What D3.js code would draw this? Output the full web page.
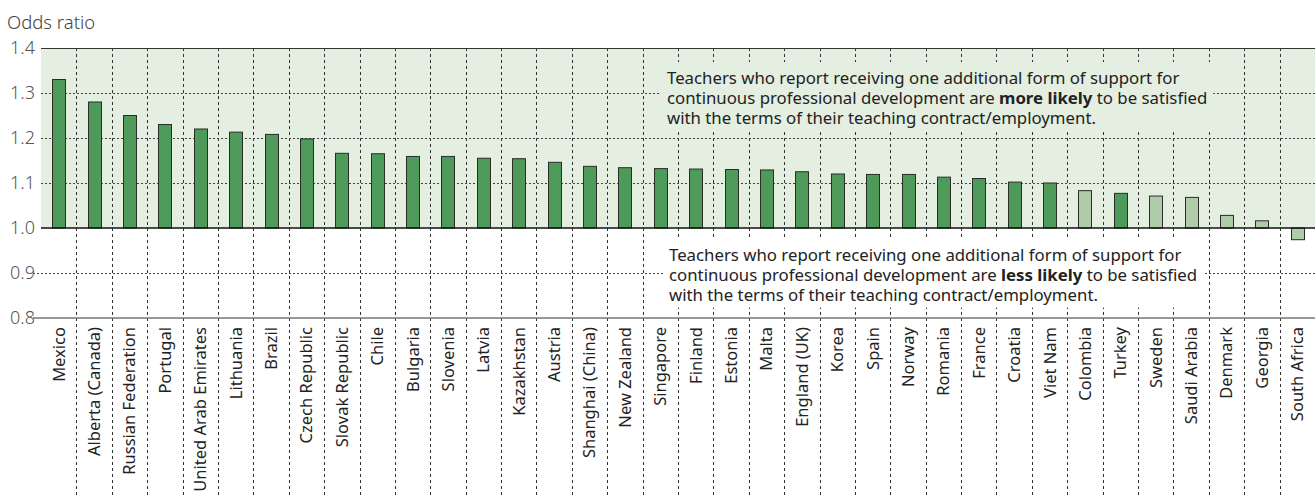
<!DOCTYPE html>
<html>
<head>
<meta charset="utf-8">
<script src="https://cdn.jsdelivr.net/npm/d3@7"></script>
<style>
  html, body { margin: 0; padding: 0; background: #fff; }
  svg { display: block; font-family: "Noto Sans", "Open Sans", sans-serif; }
</style>
</head>
<body>
<svg id="chart" width="1315" height="497"></svg>
<script>
// Odds ratio of satisfaction with contract terms per additional form of CPD support
const countries = [
  "Mexico", "Alberta (Canada)", "Russian Federation", "Portugal", "United Arab Emirates",
  "Lithuania", "Brazil", "Czech Republic", "Slovak Republic", "Chile", "Bulgaria",
  "Slovenia", "Latvia", "Kazakhstan", "Austria", "Shanghai (China)", "New Zealand",
  "Singapore", "Finland", "Estonia", "Malta", "England (UK)", "Korea", "Spain", "Norway",
  "Romania", "France", "Croatia", "Viet Nam", "Colombia", "Turkey", "Sweden",
  "Saudi Arabia", "Denmark", "Georgia", "South Africa"
];
const oddsRatio = [
  1.33, 1.28, 1.25, 1.23, 1.22,
  1.213, 1.208, 1.198, 1.166, 1.165, 1.159,
  1.159, 1.155, 1.154, 1.146, 1.137, 1.134,
  1.132, 1.131, 1.130, 1.129, 1.125, 1.120, 1.119, 1.119,
  1.113, 1.110, 1.102, 1.100, 1.083, 1.077, 1.071,
  1.068, 1.028, 1.016, 0.974
];
// true = statistically significant (darker fill)
const significant = [
  true, true, true, true, true,
  true, true, true, true, true, true,
  true, true, true, true, true, true,
  true, true, true, true, true, true, true, true,
  true, true, true, true, false, true, false,
  false, false, false, false
];
const yTicks = [0.8, 0.9, 1.0, 1.1, 1.2, 1.3, 1.4];

const svg = d3.select("#chart");
const W = 1315, H = 497;
const margin = { left: 41, top: 48, plotBottom: 318 };

const x = d3.scaleBand().domain(countries).range([margin.left, W]).paddingInner(0).paddingOuter(0);
const y = d3.scaleLinear().domain([0.8, 1.4]).range([margin.plotBottom, margin.top]);

// shaded region above 1.0
svg.append("rect")
  .attr("x", margin.left).attr("y", y(1.4))
  .attr("width", W - margin.left).attr("height", y(1.0) - y(1.4))
  .attr("fill", "#e4efe1");

// vertical dashed separators between countries
const g = svg.append("g");
const bounds = countries.slice(1).map(c => x(c));
g.selectAll("line.vgrid").data(bounds).join("line")
  .attr("class", "vgrid")
  .attr("x1", d => Math.round(d) + 0.5).attr("x2", d => Math.round(d) + 0.5)
  .attr("y1", y(1.4)).attr("y2", H - 2)
  .attr("stroke", "#333").attr("stroke-width", 1)
  .attr("stroke-dasharray", "3,3");

// horizontal dashed gridlines
const gridVals = [0.9, 1.1, 1.2, 1.3];
g.selectAll("line.hgrid").data(gridVals).join("line")
  .attr("class", "hgrid")
  .attr("x1", d => d < 1 ? 33 : margin.left).attr("x2", W)
  .attr("y1", d => Math.round(y(d)) + 0.5).attr("y2", d => Math.round(y(d)) + 0.5)
  .attr("stroke", "#444").attr("stroke-width", 1)
  .attr("stroke-dasharray", "2,2");

// y axis tick labels
const yAxis = d3.axisLeft(y).tickValues(yTicks).tickFormat(d3.format(".1f")).tickSize(0).tickPadding(6);
const ya = svg.append("g").attr("transform", `translate(${margin.left},0)`).call(yAxis);
ya.select(".domain").remove();
ya.selectAll("text")
  .attr("font-family", "'Noto Sans', sans-serif")
  .attr("font-size", 18).attr("fill", "#555").attr("font-weight", 300);

svg.append("text").attr("x", 7).attr("y", 29)
  .attr("font-size", 18.5).attr("fill", "#444").attr("font-weight", 300).text("Odds ratio");

// annotation boxes: each line is a separate text element
function note(xPos, yBase, lines, bg) {
  const grp = svg.append("g");
  const rect = grp.append("rect").attr("fill", bg);
  const texts = lines.map((line, i) => {
    const t = grp.append("text").attr("x", xPos).attr("y", yBase + i * 19.8)
      .attr("font-size", 16.8).attr("fill", "#222");
    line.forEach(seg => {
      const s = t.append("tspan").text(seg.t);
      if (seg.b) s.attr("font-weight", "bold");
    });
    return t.node().getBBox();
  });
  const x0 = d3.min(texts, b => b.x), x1 = d3.max(texts, b => b.x + b.width);
  const y0 = d3.min(texts, b => b.y), y1 = d3.max(texts, b => b.y + b.height);
  rect.attr("x", x0 - 6).attr("y", y0 - 4).attr("width", x1 - x0 + 12).attr("height", y1 - y0 + 6);
}
note(667, 84, [
  [{ t: "Teachers who report receiving one additional form of support for" }],
  [{ t: "continuous professional development are " }, { t: "more likely", b: true }, { t: " to be satisfied" }],
  [{ t: "with the terms of their teaching contract/employment." }]
], "#e4efe1");
note(669, 261, [
  [{ t: "Teachers who report receiving one additional form of support for" }],
  [{ t: "continuous professional development are " }, { t: "less likely", b: true }, { t: " to be satisfied" }],
  [{ t: "with the terms of their teaching contract/employment." }]
], "#ffffff");

// bars
const barW = 13;
const data = countries.map((c, i) => ({ c, v: oddsRatio[i], sig: significant[i] }));
svg.append("g").selectAll("rect.bar").data(data).join("rect")
  .attr("class", "bar")
  .attr("x", d => Math.round(x(d.c) + x.bandwidth() / 2 - barW / 2) + 0.5)
  .attr("y", d => y(Math.max(d.v, 1)))
  .attr("width", barW)
  .attr("height", d => Math.abs(y(d.v) - y(1)))
  .attr("fill", d => d.sig ? "#4e9a5a" : "#aecca8")
  .attr("stroke", "#2b2b2b").attr("stroke-width", 1);

// frame lines
svg.append("line").attr("x1", margin.left).attr("x2", W)
  .attr("y1", y(1.4) + 0.5).attr("y2", y(1.4) + 0.5).attr("stroke", "#333").attr("stroke-width", 1);
svg.append("line").attr("x1", margin.left).attr("x2", W)
  .attr("y1", y(1.0)).attr("y2", y(1.0)).attr("stroke", "#111").attr("stroke-width", 1.5);
svg.append("line").attr("x1", 33).attr("x2", W)
  .attr("y1", y(0.8)).attr("y2", y(0.8)).attr("stroke", "#777").attr("stroke-width", 1.5);

// country labels
const xAxis = d3.axisBottom(x).tickSize(0).tickPadding(0);
const xa = svg.append("g").attr("transform", `translate(0,${y(0.8)})`).call(xAxis);
xa.select(".domain").remove();
xa.selectAll("text")
  .attr("font-family", "'Noto Sans', sans-serif")
  .attr("font-size", 16.5).attr("fill", "#222")
  .attr("transform", "rotate(-90)")
  .attr("text-anchor", "end")
  .attr("x", -9).attr("y", 0).attr("dy", "0.36em");
</script>
</body>
</html>
